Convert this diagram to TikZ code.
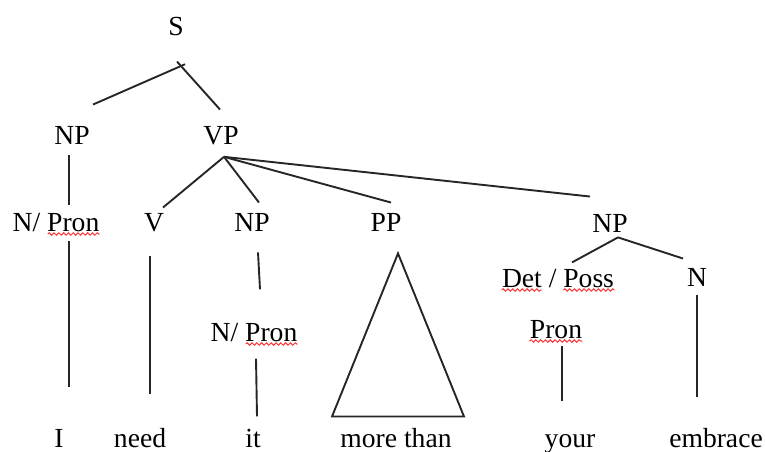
\documentclass[tikz,border=0pt]{standalone}
\usepackage{fontspec}
\setmainfont{Liberation Serif}
\usepackage{tikz}
\usetikzlibrary{positioning, calc, decorations.pathmorphing}

\begin{document}
\begin{tikzpicture}[
    x=0.5pt, y=-0.5pt,
    every node/.style={font=\fontsize{13.8}{16}\selectfont},
    cat/.style={anchor=base, inner sep=2.5pt, text=black},
    word/.style={anchor=base, inner sep=2.5pt, text=black},
    branch/.style={draw=black!85, line width=0.95pt},
    spell/.style={draw=red!80, line width=0.5pt, decorate, decoration={snake, amplitude=0.6pt, segment length=2.4pt}}
]
    \useasboundingbox (0,0) rectangle (765,451);

    \node[cat] (S) at (176,35) {S};
    \node[cat] (NP1) at (72,144) {NP};
    \node[cat] (VP) at (221,144) {VP};
    \node[cat] (NPron1) at (56,231) {N/ Pron};
    \node[cat] (V) at (154,231) {V};
    \node[cat] (NP2) at (252,231) {NP};
    \node[cat] (PP) at (386,231) {PP};
    \node[cat] (NP3) at (610,232) {NP};
    \node[cat] (DetPoss) at (558,287) {Det / Poss};
    \node[cat] (N2) at (697,286) {N};
    \node[cat] (NPron2) at (254,341) {N/ Pron};
    \node[cat] (Pron) at (556,338) {Pron};

    \node[word] (I) at (59,447) {I};
    \node[word] (need) at (140,447) {need};
    \node[word] (it) at (253,447) {it};
    \node[word] (more) at (396,447) {more than};
    \node[word] (your) at (570,447) {your};
    \node[word] (embrace) at (716,447) {embrace};

    \coordinate (Sroot) at ([shift={(5,31)}]S.base);
    \coordinate (VPhub) at ([shift={(3,7)}]VP.south);
    \coordinate (NPhub) at ([shift={(8,0)}]NP3.south);

    \draw[branch, shorten >=-2.2pt] ([shift={(21,-16)}]NP1.north) -- (Sroot);
    \draw[branch, shorten >=-3pt] ([shift={(-1,-11)}]VP.north) -- (Sroot);
    \draw[branch] ([shift={(-3,6)}]NP1.south) -- ([shift={(13,-2)}]NPron1.north);
    \draw[branch] (VPhub) -- ([shift={(9,0)}]V.north);
    \draw[branch] (VPhub) -- ([shift={(7,-5)}]NP2.north);
    \draw[branch] (VPhub) -- ([shift={(5,-5)}]PP.north);
    \draw[branch] (VPhub) -- ([shift={(-20,-12)}]NP3.north);
    \draw[branch] (NPhub) -- ([shift={(14,-1)}]DetPoss.north);
    \draw[branch] (NPhub) -- ([shift={(-14,-4)}]N2.north);

    \draw[branch] ([shift={(13,4)}]NPron1.south) -- ([shift={(10,-37)}]I.north);
    \draw[branch] ([shift={(-4,19)}]V.south) -- ([shift={(10,-28)}]need.north);
    \draw[branch] ([shift={(6,16)}]NP2.south) -- ([shift={(6,-28)}]NPron2.north);
    \draw[branch] ([shift={(2,12)}]NPron2.south) -- ([shift={(4,-7)}]it.north);
    \draw[branch] ([shift={(12,17)}]PP.south) -- ([shift={(-3,-6)}]more.north west)
        -- ([shift={(7,-6)}]more.north east) -- cycle;
    \draw[branch] ([shift={(6,2)}]Pron.south) -- ([shift={(-8,-28)}]your.north);
    \draw[branch] ([shift={(0,4)}]N2.south) -- ([shift={(-19,-25)}]embrace.north);

    \draw[spell] ([shift={(-57,3)}]NPron1.base east) -- ([shift={(-5,3)}]NPron1.base east);
    \draw[spell] ([shift={(-57,3)}]NPron2.base east) -- ([shift={(-5,3)}]NPron2.base east);
    \draw[spell] ([shift={(5,3)}]DetPoss.base west) -- ([shift={(45,3)}]DetPoss.base west);
    \draw[spell] ([shift={(-56,3)}]DetPoss.base east) -- ([shift={(-5,3)}]DetPoss.base east);
    \draw[spell] ([shift={(5,3)}]Pron.base west) -- ([shift={(-5,3)}]Pron.base east);
\end{tikzpicture}
\end{document}
